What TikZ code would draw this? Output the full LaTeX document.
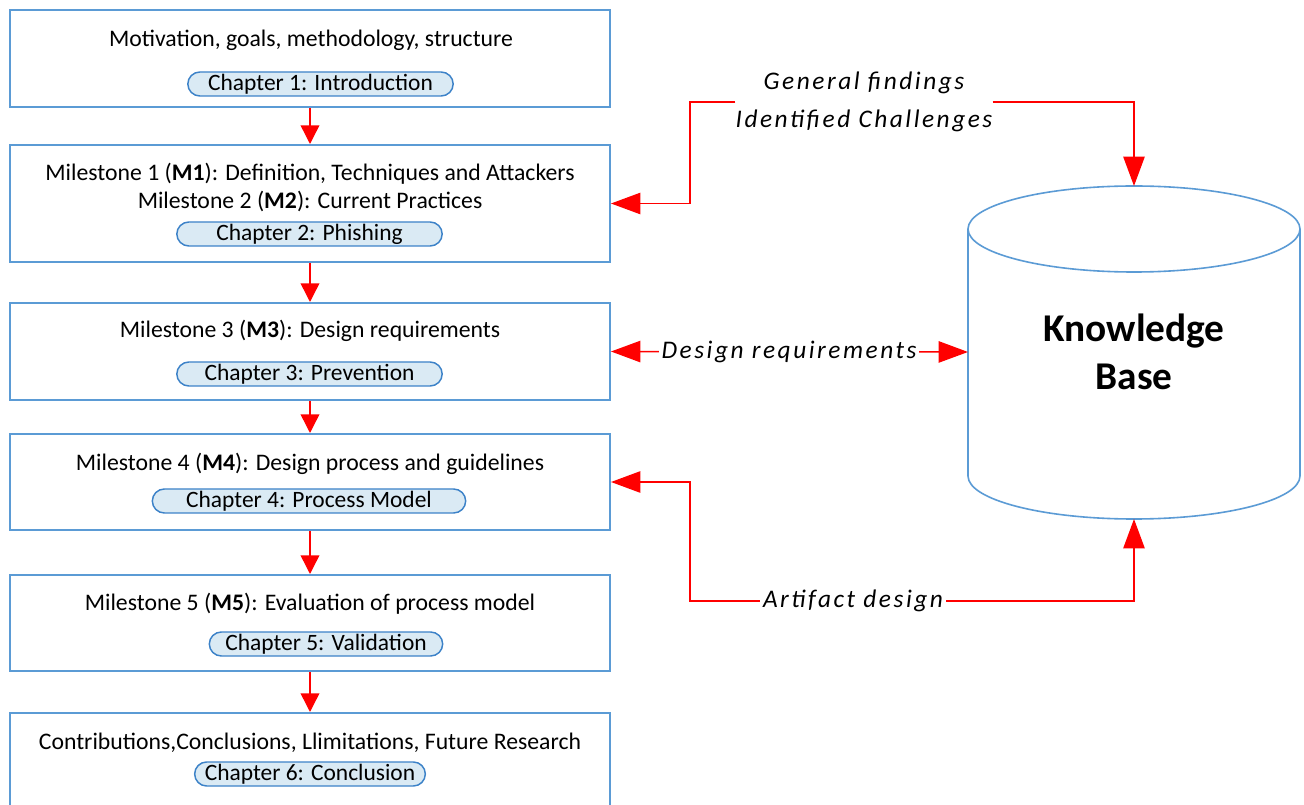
\documentclass[tikz,border=0pt]{standalone}
\usepackage{fontspec}
\setmainfont{Carlito}
\newfontfamily\lblfont[LetterSpace=10]{Carlito}
\usetikzlibrary{arrows.meta,shapes.misc}
\definecolor{boxblue}{RGB}{91,155,213}
\definecolor{pillfill}{RGB}{218,234,244}
\definecolor{pillline}{RGB}{60,130,200}
\definecolor{arrred}{RGB}{255,0,0}
\begin{document}
\begin{tikzpicture}[x=0.75pt,y=-0.75pt,
  box/.style={draw=boxblue,line width=1.5pt,minimum width=450pt,inner sep=0pt},
  txt/.style={font=\fontsize{17.8}{21}\selectfont,inner sep=0pt},
  pill/.style={rounded rectangle,draw=pillline,fill=pillfill,line width=1.1pt,minimum height=18pt,inner sep=0pt,font=\fontsize{17.6}{21}\selectfont},
  flow/.style={draw=arrred,line width=1.1pt,-{Triangle[length=14pt,width=14pt]}},
  side/.style={draw=arrred,line width=1.1pt,-{Triangle[length=22pt,width=16pt]}},
  dside/.style={draw=arrred,line width=1.1pt,{Triangle[length=22pt,width=16pt]}-{Triangle[length=22pt,width=16pt]}},
  lbl/.style={font=\lblfont\itshape\fontsize{19}{28.5}\selectfont,inner sep=0pt,align=center},
  kbstyle/.style={draw=boxblue,line width=1.2pt}]
\path[use as bounding box,fill=white] (0,0) rectangle (1304,805);

% boxes
\node[box,minimum height=72.75pt] (b1) at (310,58.5) {};
\node[box,minimum height=87.75pt] (b2) at (310,203.5) {};
\node[box,minimum height=72.75pt] (b3) at (310,351.5) {};
\node[box,minimum height=72pt] (b4) at (310,482) {};
\node[box,minimum height=72pt] (b5) at (310,623) {};
\node[box,minimum height=90pt] (b6) at (310,773) {};

% texts
\node[txt] (t1) at (311,40) {Motivation, goals, methodology, structure};
\node[txt] (t2a) at (310,174) {Milestone 1 (\textbf{M1}): Definition, Techniques and Attackers};
\node[txt] (t2b) at (310,201) {Milestone 2 (\textbf{M2}): Current Practices};
\node[txt] (t3) at (310,331) {Milestone 3 (\textbf{M3}): Design requirements};
\node[txt] (t4) at (310,464) {Milestone 4 (\textbf{M4}): Design process and guidelines};
\node[txt] (t5) at (310,604) {Milestone 5 (\textbf{M5}): Evaluation of process model};
\node[txt] (t6) at (310,743) {Contributions,Conclusions, Llimitations, Future Research};

% pills
\node[pill,minimum width=199pt] (p1) at (320.5,84) {Chapter 1: Introduction};
\node[pill,minimum width=199pt] (p2) at (309.5,234) {Chapter 2: Phishing};
\node[pill,minimum width=199pt] (p3) at (309.5,374) {Chapter 3: Prevention};
\node[pill,minimum width=235pt] (p4) at (309,501) {Chapter 4: Process Model};
\node[pill,minimum width=175pt] (p5) at (326,644) {Chapter 5: Validation};
\node[pill,minimum width=173pt] (p6) at (310,774) {Chapter 6: Conclusion};

% flow arrows
\draw[flow] (b1.south) -- (b2.north);
\draw[flow] (b2.south) -- (b3.north);
\draw[flow] (b3.south) -- (b4.north);
\draw[flow] (b4.south) -- (b5.north);
\draw[flow] (b5.south) -- (b6.north);

% knowledge base cylinder
\coordinate (kbtop) at (1134,186);
\coordinate (kbbot) at (1134,519);
\coordinate (kbleft) at (968,352);
\draw[kbstyle] (1134,229) ellipse [x radius=166, y radius=43];
\draw[kbstyle] (968,229) -- (968,476) arc[start angle=180, end angle=0, x radius=166, y radius=43] -- (1300,229);
\node[font=\bfseries\fontsize{29.5}{36}\selectfont,align=center,inner sep=0pt] (kb) at (1134,352) {Knowledge\\Base};

% side connectors
\node[lbl] (gf) at (864,102) {General findings\\Identified Challenges};
\coordinate (k1) at (690,102);
\draw[side] (gf.west) -- (k1) |- (b2.east);
\draw[side] (gf.east) -| (kbtop);

\draw[dside] (b3.east) -- (kbleft);
\node[lbl,fill=white,inner xsep=2pt] (dr) at (789,352) {Design requirements};

\coordinate (k2) at (690,482);
\coordinate (k3) at (1134,601);
\draw[dside] (b4.east) -- (k2) |- (k3) -- (kbbot);
\node[lbl,fill=white,inner xsep=2pt] (ad) at (853,601) {Artifact design};
\end{tikzpicture}
\end{document}
